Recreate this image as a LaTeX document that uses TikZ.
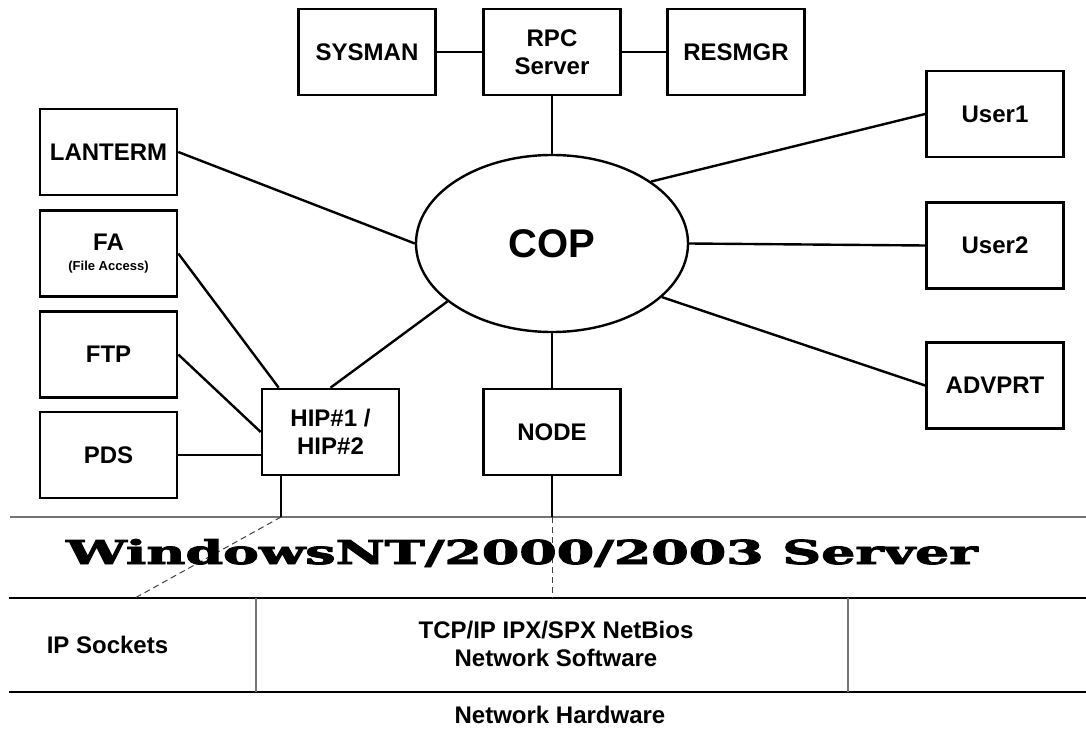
\documentclass[tikz,border=0pt]{standalone}
\usepackage{fontspec}
\setmainfont{Liberation Sans}
\newfontfamily\bannerfont{DejaVu Serif}[BoldFeatures={FakeBold=2.5}]
\usepackage{tikz}
\usetikzlibrary{shapes.geometric, positioning}

\begin{document}
\begin{tikzpicture}[x=1pt, y=-1pt,
    box/.style={draw, line width=2.6pt, minimum width=137pt, minimum height=86pt, inner sep=0pt, align=center, font=\fontsize{24}{28}\selectfont\bfseries},
    link/.style={line width=2.4pt},
    layer/.style={line width=2.8pt},
    cell/.style={line width=1.5pt, black!55},
    hint/.style={line width=1pt, black!75, dash pattern=on 6pt off 4pt},
    layertext/.style={align=center, font=\fontsize{24}{28}\selectfont\bfseries}]
    \useasboundingbox (0,0) rectangle (1086,746);

    % services round the COP
    \node[draw, ellipse, line width=2.4pt, minimum width=272pt, minimum height=177pt, font=\fontsize{40}{44}\selectfont\bfseries] (cop) at (552,243.5) {COP};

    \node[box] (sysman) at (367,52) {SYSMAN};
    \node[box] (rpc) at (552,52) {RPC\\Server};
    \node[box] (resmgr) at (736,52) {RESMGR};

    \node[box] (lanterm) at (108.5,152) {LANTERM};
    \node[box] (fa) at (108.5,253.5) {FA\\[-8pt]\fontsize{13}{15}\selectfont(File Access)};
    \node[box] (ftp) at (108.5,354.5) {FTP};
    \node[box] (pds) at (108.5,455) {PDS};

    \node[box] (hip) at (330.5,432) {HIP\#1 /\\HIP\#2};
    \node[box] (nodebox) at (552,432) {NODE};

    \node[box] (user1) at (995,114) {User1};
    \node[box] (user2) at (995,245.5) {User2};
    \node[box] (advprt) at (995,385.5) {ADVPRT};

    \draw[link] (sysman) -- (rpc);
    \draw[link] (rpc) -- (resmgr);
    \draw[link] (rpc) -- (cop);
    \draw[link] (lanterm.east) -- (cop.west);
    \draw[link] (fa.east) -- ([xshift=18pt]hip.north west);
    \draw[link] (ftp.east) -- (hip.west);
    \draw[link] (pds.east) -- (pds.east -| hip.west);
    \draw[link] (hip.north) -- (cop.209);
    \draw[link] (nodebox) -- (cop);
    \draw[link] (cop.32) -- (user1.west);
    \draw[link] (cop.east) -- (user2.west);
    \draw[link] (cop.334) -- (advprt.west);

    % operating system and network layers
    \coordinate (hipdrop) at (281,517);
    \coordinate (nodedrop) at (552,517);
    \coordinate (sockend) at (135,598);
    \coordinate (stackend) at (552,598);

    \draw[cell] (10,517) -- (1086,517);
    \draw[layer] (9,598) -- (1086,598);
    \draw[layer] (9,692) -- (1086,692);
    \draw[cell] (256,598) -- (256,692);
    \draw[cell] (848,598) -- (848,692);

    \draw[link] (hipdrop |- hip.south) -- (hipdrop);
    \draw[link] (nodebox.south) -- (nodedrop);
    \draw[hint] (hipdrop) -- (sockend);
    \draw[hint] (nodedrop) -- (stackend);

    \node[anchor=base, inner sep=0pt] (osname) at (522,564) {\resizebox{911pt}{25pt}{\bannerfont\bfseries WindowsNT/2000/2003 Server}};
    \node[layertext] (ipsock) at (107.5,645) {IP Sockets};
    \node[layertext] (netsw) at (556,644) {TCP/IP IPX/SPX NetBios\\Network Software};
    \node[layertext] (nethw) at (560,715) {Network Hardware};
\end{tikzpicture}
\end{document}
